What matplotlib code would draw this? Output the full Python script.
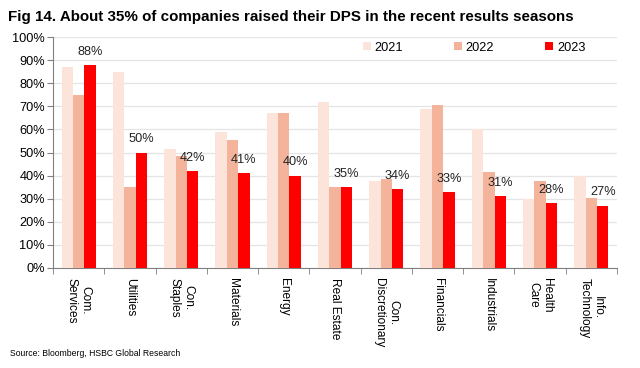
import matplotlib.pyplot as plt
import numpy as np

plt.rcParams['font.family'] = ['Liberation Sans', 'DejaVu Sans']

categories = ['Com.\nServices', 'Utilities', 'Con.\nStaples', 'Materials', 'Energy',
              'Real Estate', 'Con.\nDiscretionary', 'Financials', 'Industrials',
              'Health\nCare', 'Info.\nTechnology']
v2021 = [87, 85, 51.5, 59, 67, 72, 37.5, 69, 60, 30, 40]
v2022 = [75, 35, 48.5, 55.5, 67, 35, 38.5, 70.5, 41.5, 37.5, 30.5]
v2023 = [88, 50, 42, 41, 40, 35, 34, 33, 31, 28, 27]
years = ['2021', '2022', '2023']
colors = ['#FCE4DB', '#F4B49C', '#FF0000']

fig = plt.figure(figsize=(6.4, 3.68), dpi=100)
ax = fig.add_axes([0.083, 0.272, 0.881, 0.627])

x = np.arange(len(categories))
w = 0.222
for i, (vals, lab, c) in enumerate(zip([v2021, v2022, v2023], years, colors)):
    ax.bar(x + (i - 1) * w, vals, width=w, color=c, label=lab, zorder=3)

for xi, v in zip(x, v2023):
    ax.annotate('%d%%' % round(v), (xi + w, v), xytext=(0, 9.5), textcoords='offset points',
                ha='center', va='center', fontsize=9.2, color='#222222', zorder=4)

ax.set_xlim(-0.5, len(categories) - 0.5)
ax.set_ylim(0, 100)
ax.set_yticks(np.arange(0, 101, 10))
ax.set_yticklabels(['%d%%' % t for t in range(0, 101, 10)], fontsize=9.2)
ax.yaxis.grid(True, color='#E4E4E4', linewidth=0.9, zorder=0)

ax.set_xticks(x)
ax.set_xticklabels(categories, rotation=-90, fontsize=8.6, va='top', ha='center',
                   linespacing=1.2)
ax.set_xticks(np.arange(-0.5, len(categories), 1), minor=True)
ax.tick_params(axis='x', which='major', length=0, pad=7)
ax.tick_params(axis='x', which='minor', length=4, color='#808080')
ax.tick_params(axis='y', length=4, color='#808080', pad=2)

for s in ['top', 'right']:
    ax.spines[s].set_visible(False)
for s in ['left', 'bottom']:
    ax.spines[s].set_color('#808080')

leg = ax.legend(ncol=3, loc='center', bbox_to_anchor=(0.747, 0.955), frameon=True,
                fontsize=9.2, handlelength=0.6, handleheight=0.6, handletextpad=0.3,
                columnspacing=4.0, borderpad=0.2)
leg.get_frame().set_edgecolor('none')
leg.get_frame().set_facecolor('white')
leg.get_frame().set_alpha(1)

fig.text(0.012, 0.955, 'Fig 14. About 35% of companies raised their DPS in the recent results seasons',
         fontsize=10.9, fontweight='bold', va='center', ha='left')
fig.text(0.015, 0.04, 'Source: Bloomberg, HSBC Global Research', fontsize=6.2, va='center', ha='left')

fig.savefig('out.png', dpi=100)
